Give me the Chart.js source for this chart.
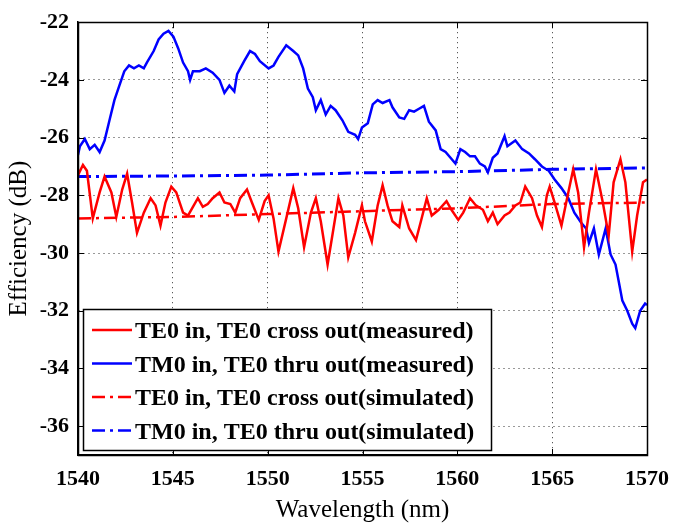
<!DOCTYPE html>
<html><head><meta charset="utf-8">
<script src="https://cdn.jsdelivr.net/npm/chart.js@4/dist/chart.umd.min.js"></script>
<style>html,body{margin:0;padding:0;background:#fff}</style>
</head><body>
<canvas id="c" width="680" height="523" style="width:680px;height:523px;display:block"></canvas>
<script>
const xTicks = [1540,1545,1550,1555,1560,1565,1570];
const yTicks = [-36,-34,-32,-30,-28,-26,-24,-22];
const seriesLabels = [
  "TE0 in, TE0 cross out(measured)",
  "TM0 in, TE0 thru out(measured)",
  "TE0 in, TE0 cross out(simulated)",
  "TM0 in, TE0 thru out(simulated)"
];
const teMeasWl = [1540.0,1540.26,1540.47,1540.78,1541.14,1541.4,1541.76,1542.02,1542.33,1542.59,1542.85,1543.11,1543.47,1543.83,1544.09,1544.35,1544.61,1544.92,1545.18,1545.54,1545.8,1546.06,1546.32,1546.58,1546.84,1547.1,1547.46,1547.72,1548.03,1548.29,1548.55,1548.91,1549.17,1549.53,1549.84,1550.05,1550.31,1550.57,1550.98,1551.35,1551.61,1551.92,1552.28,1552.54,1552.8,1553.16,1553.47,1553.73,1553.99,1554.25,1554.61,1554.97,1555.13,1555.49,1555.8,1556.06,1556.32,1556.58,1556.94,1557.1,1557.46,1557.82,1558.08,1558.39,1558.65,1559.02,1559.43,1559.69,1560.05,1560.31,1560.67,1560.98,1561.35,1561.61,1561.87,1562.12,1562.49,1562.75,1563.06,1563.32,1563.58,1563.94,1564.2,1564.46,1564.72,1564.87,1565.13,1565.49,1565.85,1566.11,1566.37,1566.68,1566.94,1567.31,1567.67,1567.98,1568.24,1568.6,1568.86,1569.22,1569.48,1569.79,1570.0];
const teMeasDb = [-27.3,-26.95,-27.15,-28.8,-27.9,-27.35,-27.9,-28.75,-27.8,-27.25,-28.25,-29.3,-28.6,-28.1,-28.35,-29.05,-28.25,-27.7,-27.9,-28.6,-28.7,-28.4,-28.1,-28.4,-28.3,-28.1,-27.9,-28.25,-28.3,-28.6,-28.1,-27.8,-28.25,-28.85,-28.2,-28.0,-28.8,-29.95,-28.8,-27.75,-28.45,-29.8,-28.6,-28.1,-28.9,-30.4,-29.15,-28.1,-28.7,-30.15,-29.3,-28.35,-28.9,-29.6,-28.35,-27.65,-28.35,-28.9,-29.1,-28.35,-29.15,-29.55,-28.9,-28.1,-28.7,-28.5,-28.2,-28.5,-28.85,-28.6,-28.1,-28.35,-28.5,-28.9,-28.6,-29.0,-28.7,-28.6,-28.35,-28.25,-27.7,-28.1,-28.7,-29.1,-28.0,-27.7,-28.25,-29.05,-27.9,-27.1,-27.9,-29.8,-28.6,-27.1,-28.25,-29.4,-27.55,-26.75,-27.55,-29.95,-28.7,-27.55,-27.45];
const tmMeasWl = [1540.0,1540.1,1540.36,1540.62,1540.88,1541.14,1541.4,1541.66,1541.92,1542.18,1542.44,1542.69,1542.95,1543.21,1543.47,1543.63,1543.99,1544.25,1544.51,1544.77,1545.03,1545.28,1545.54,1545.8,1545.91,1546.06,1546.42,1546.74,1547.1,1547.46,1547.72,1547.98,1548.24,1548.39,1548.76,1549.07,1549.33,1549.59,1550.05,1550.31,1550.57,1550.98,1551.35,1551.61,1551.87,1552.12,1552.38,1552.54,1552.8,1553.06,1553.32,1553.58,1553.94,1554.25,1554.61,1554.77,1554.97,1555.28,1555.54,1555.8,1556.06,1556.42,1556.58,1556.94,1557.2,1557.46,1557.72,1557.98,1558.24,1558.5,1558.86,1559.12,1559.38,1559.64,1559.9,1560.16,1560.41,1560.67,1560.93,1561.19,1561.45,1561.61,1561.87,1562.12,1562.49,1562.64,1563.06,1563.42,1563.78,1564.09,1564.46,1564.82,1565.13,1565.49,1565.85,1566.17,1566.53,1566.79,1566.94,1567.2,1567.46,1567.82,1568.08,1568.34,1568.5,1568.7,1568.96,1569.22,1569.38,1569.64,1569.9,1570.0];
const tmMeasDb = [-26.6,-26.3,-26.05,-26.4,-26.25,-26.5,-26.1,-25.4,-24.7,-24.2,-23.7,-23.5,-23.6,-23.5,-23.6,-23.4,-23.0,-22.6,-22.4,-22.3,-22.5,-22.9,-23.4,-23.7,-24.0,-23.7,-23.7,-23.6,-23.75,-24.0,-24.45,-24.2,-24.4,-23.8,-23.35,-23.0,-23.1,-23.35,-23.6,-23.5,-23.2,-22.8,-23.0,-23.15,-23.6,-24.3,-24.6,-25.05,-24.7,-25.2,-24.9,-25.05,-25.4,-25.8,-25.9,-26.05,-25.65,-25.5,-24.85,-24.7,-24.8,-24.7,-24.95,-25.3,-25.35,-25.05,-25.1,-25.0,-24.9,-25.45,-25.75,-26.4,-26.5,-26.7,-26.9,-26.4,-26.5,-26.65,-26.65,-26.9,-27.0,-27.2,-26.7,-26.55,-25.95,-26.3,-26.1,-26.4,-26.55,-26.75,-27.0,-27.15,-27.45,-27.75,-28.1,-28.6,-28.95,-29.15,-29.65,-29.15,-30.05,-29.15,-30.05,-30.4,-30.95,-31.65,-32.0,-32.45,-32.6,-32.0,-31.75,-31.8];
const teSimWl = [1540,1545,1550,1555,1560,1565,1570];
const teSimDb = [-28.8,-28.75,-28.65,-28.55,-28.45,-28.3,-28.25];
const tmSimWl = [1540,1545,1550,1555,1560,1565,1570];
const tmSimDb = [-27.35,-27.33,-27.3,-27.22,-27.18,-27.1,-27.05];

const FONT = '"Liberation Serif","Times New Roman",serif';
const pts = (xs, ys) => xs.map((x, i) => ({x, y: ys[i]}));
const RED = '#ff0000', BLUE = '#0000ff';
const DASHDOT = [13,5,3,5];
const GRID_DASH = [1,4];

const frame = {
  id: 'frame',
  afterDraw(chart) {
    const {ctx, chartArea: a, scales} = chart;
    ctx.save();
    ctx.strokeStyle = '#000';
    ctx.lineWidth = 1;
    ctx.beginPath();
    xTicks.forEach(v => {
      const px = Math.round(scales.x.getPixelForValue(v)) + 0.5;
      ctx.moveTo(px, a.bottom); ctx.lineTo(px, a.bottom - 6);
      ctx.moveTo(px, a.top); ctx.lineTo(px, a.top + 6);
    });
    yTicks.forEach(v => {
      const py = Math.round(scales.y.getPixelForValue(v)) + 0.5;
      ctx.moveTo(a.left, py); ctx.lineTo(a.left + 6, py);
      ctx.moveTo(a.right, py); ctx.lineTo(a.right - 6, py);
    });
    ctx.stroke();
    ctx.lineWidth = 1.5;
    ctx.strokeRect(Math.round(a.left) + 0.5, Math.round(a.top) + 0.5, Math.round(a.right - a.left), Math.round(a.bottom - a.top));
    // legend box
    const ds = chart.data.datasets;
    ctx.font = 'bold 24px ' + FONT;
    let tw = 0;
    ds.forEach(d => { tw = Math.max(tw, ctx.measureText(d.label).width); });
    const bx = a.left + 5, by = a.bottom - 146, rowH = 33.5;
    const bw = 57 + tw + 12, bh = 141;
    ctx.fillStyle = '#fff';
    ctx.fillRect(bx, by, bw, bh);
    ctx.lineWidth = 1.5;
    ctx.strokeStyle = '#000';
    ctx.strokeRect(Math.round(bx) + 0.5, Math.round(by) + 0.5, Math.round(bw), bh);
    ds.forEach((d, i) => {
      const cy = by + 21 + i * rowH;
      ctx.save();
      ctx.strokeStyle = d.borderColor;
      ctx.lineWidth = 2.5;
      ctx.setLineDash(d.borderDash || []);
      ctx.beginPath();
      ctx.moveTo(bx + 9, cy); ctx.lineTo(bx + 49, cy);
      ctx.stroke();
      ctx.restore();
      ctx.fillStyle = '#000';
      ctx.textBaseline = 'middle';
      ctx.textAlign = 'left';
      ctx.fillText(d.label, bx + 52, cy + 2);
    });
    ctx.restore();
  }
};

new Chart(document.getElementById('c'), {
  type: 'line',
  data: {
    datasets: [
      {label: seriesLabels[0], data: pts(teMeasWl, teMeasDb), borderColor: RED, backgroundColor: RED, borderWidth: 2.5},
      {label: seriesLabels[1], data: pts(tmMeasWl, tmMeasDb), borderColor: BLUE, backgroundColor: BLUE, borderWidth: 2.5},
      {label: seriesLabels[2], data: pts(teSimWl, teSimDb), borderColor: RED, backgroundColor: RED, borderWidth: 2.5, borderDash: DASHDOT},
      {label: seriesLabels[3], data: pts(tmSimWl, tmSimDb), borderColor: BLUE, backgroundColor: BLUE, borderWidth: 3, borderDash: DASHDOT}
    ]
  },
  options: {
    responsive: false,
    animation: false,
    devicePixelRatio: 1,
    layout: {padding: {top: 13, right: 23, left: 0, bottom: 0}},
    elements: {point: {radius: 0}, line: {tension: 0}},
    plugins: {legend: {display: false}, tooltip: {enabled: false}},
    scales: {
      x: {
        type: 'linear', min: 1540, max: 1570,
        afterBuildTicks: s => { s.ticks = xTicks.map(v => ({value: v})); },
        afterFit: s => { s.height = 68; },
        grid: {color: '#333', lineWidth: 1, drawTicks: false},
        border: {display: true, color: '#000', width: 1.5, dash: GRID_DASH},
        ticks: {color: '#000', padding: 11, maxRotation: 0, callback: v => String(v), font: {family: FONT, size: 22, weight: 'bold'}},
        title: {display: true, text: 'Wavelength (nm)', color: '#000', padding: {top: 0, bottom: 0}, font: {family: FONT, size: 25, lineHeight: 1}}
      },
      y: {
        type: 'linear', min: -37, max: -22,
        afterBuildTicks: s => { s.ticks = yTicks.map(v => ({value: v})); },
        afterFit: s => { s.width = 78; },
        grid: {color: '#333', lineWidth: 1, drawTicks: false},
        border: {display: true, color: '#000', width: 1.5, dash: GRID_DASH},
        ticks: {color: '#000', padding: 9, callback: v => String(v), font: {family: FONT, size: 22, weight: 'bold'}},
        title: {display: true, text: 'Efficiency (dB)', color: '#000', padding: {top: 7, bottom: 0}, font: {family: FONT, size: 25, lineHeight: 1}}
      }
    }
  },
  plugins: [frame]
});
</script>
</body></html>
